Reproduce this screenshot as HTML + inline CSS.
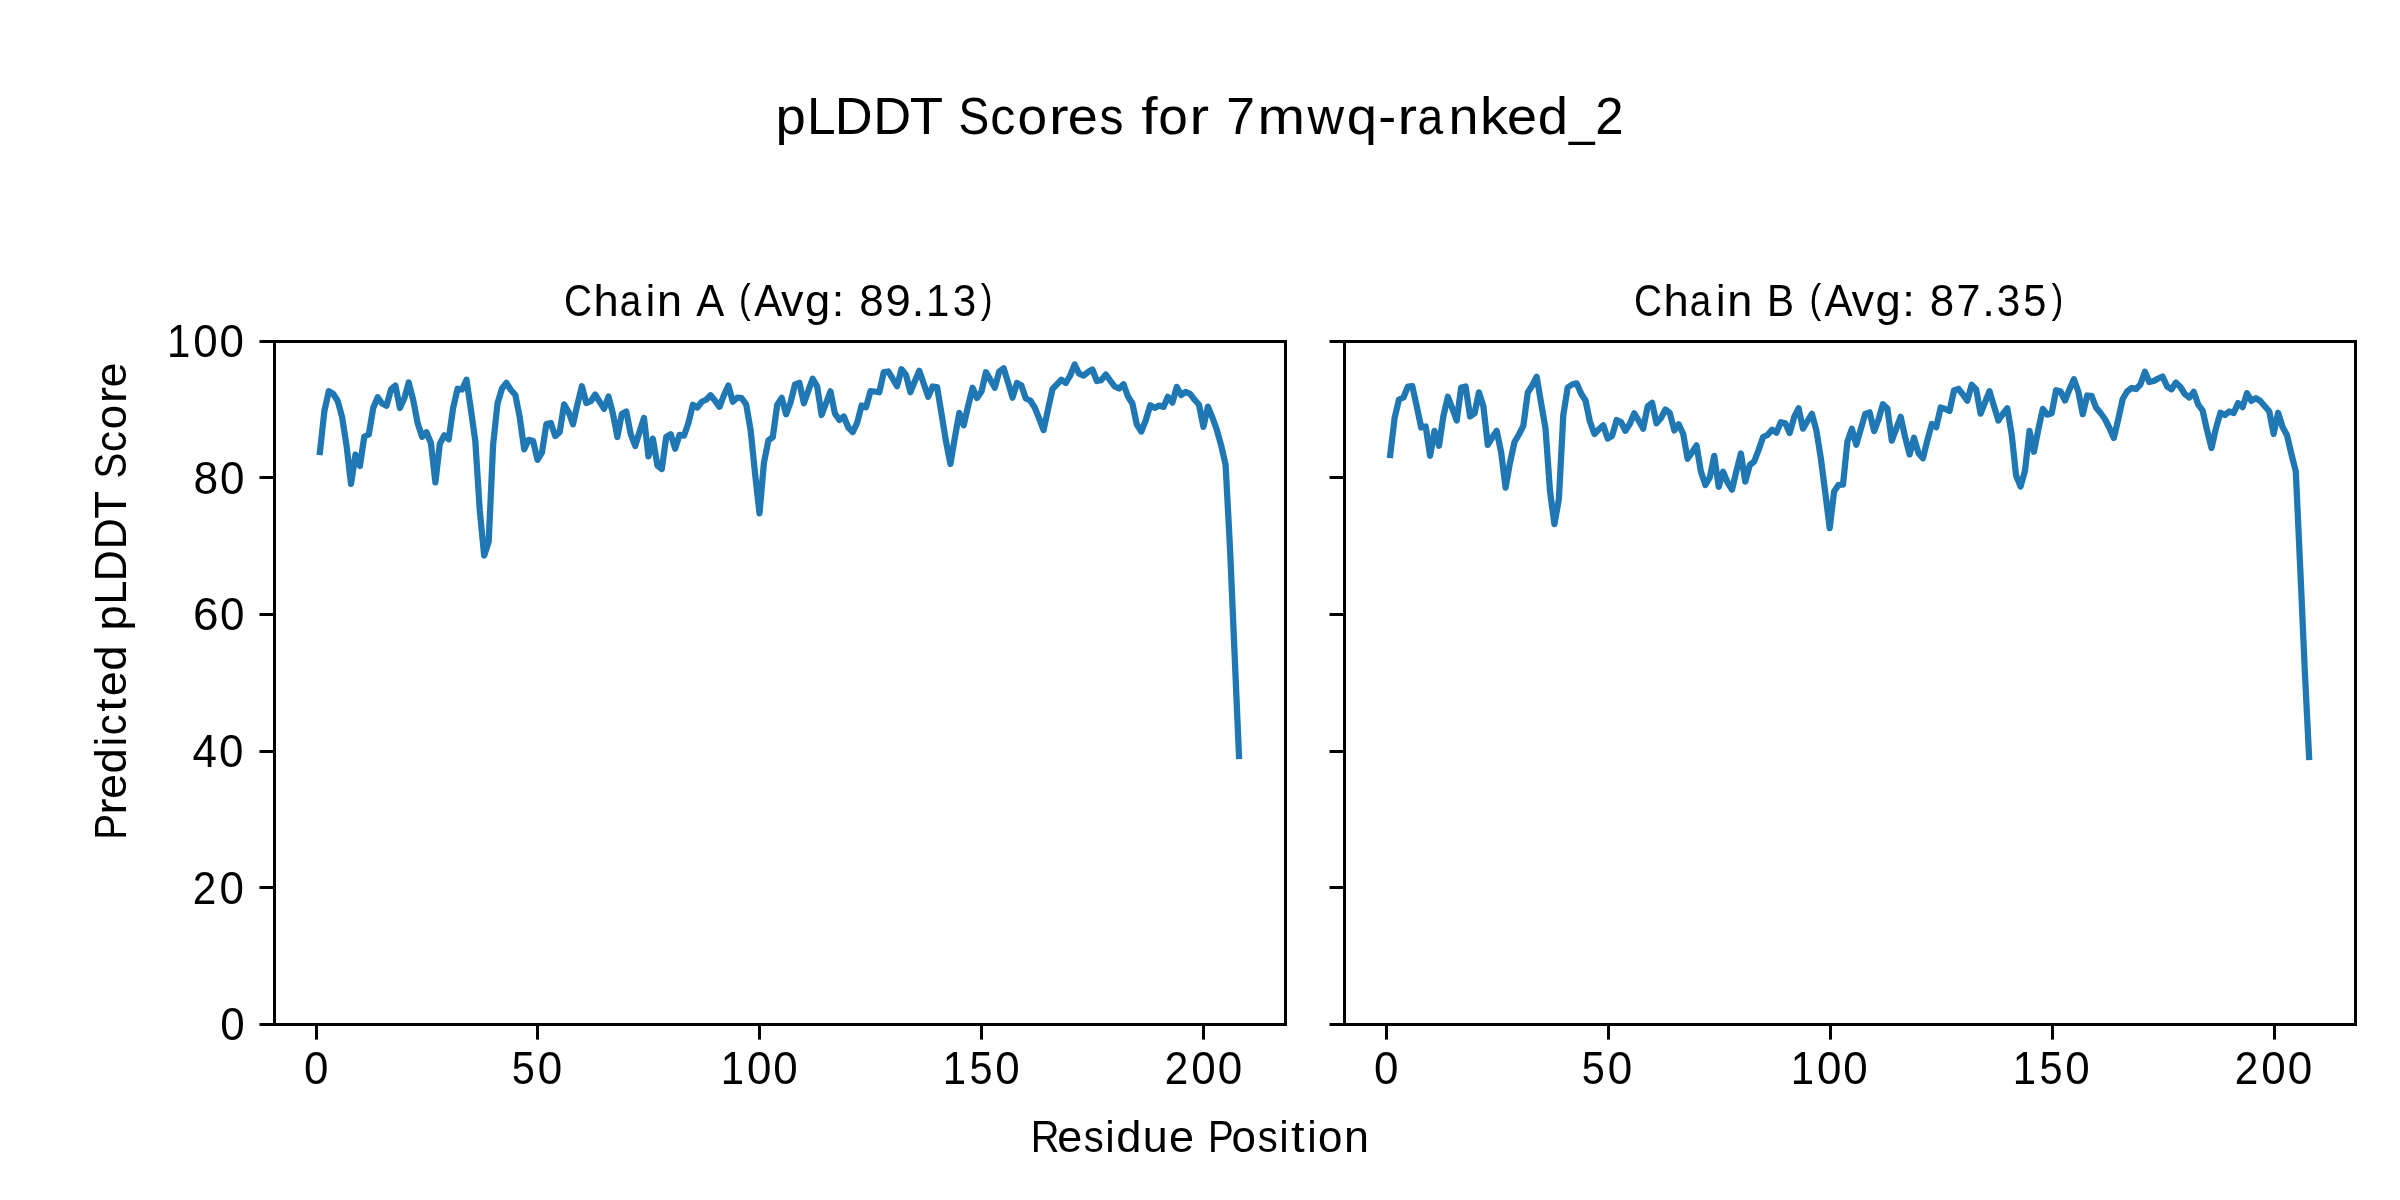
<!DOCTYPE html>
<html lang="en">
<head>
<meta charset="utf-8">
<title>pLDDT Scores for 7mwq-ranked_2</title>
<style>
html,body{margin:0;padding:0;background:#fff;}
body{width:2400px;height:1200px;overflow:hidden;}
svg{display:block;will-change:transform;}
svg text{font-family:"Liberation Sans",sans-serif;fill:#000;}
</style>
</head>
<body>
<svg width="2400" height="1200" viewBox="0 0 2400 1200">
<rect x="0" y="0" width="2400" height="1200" fill="#ffffff"/>
<!-- chain A pLDDT line -->
<polyline id="line-a" points="319.9,452.0 324.4,411.0 328.8,391.2 333.3,394.0 337.7,401.0 342.1,417.0 346.6,446.0 351.0,484.0 355.5,454.5 359.9,466.0 364.3,436.5 368.8,434.5 373.2,408.0 377.7,397.2 382.1,403.5 386.5,405.8 391.0,389.4 395.4,385.5 399.9,408.0 404.3,398.5 408.7,382.5 413.2,400.0 417.6,423.0 422.1,436.7 426.5,432.2 430.9,443.0 435.4,482.3 439.8,444.0 444.3,435.3 448.7,439.3 453.1,408.0 457.6,388.7 462.0,389.5 466.5,379.7 470.9,409.5 475.3,441.0 479.8,511.0 484.2,555.5 488.7,541.5 493.1,445.0 497.5,403.5 502.0,388.5 506.4,382.8 510.9,390.0 515.3,394.8 519.7,417.0 524.2,449.3 528.6,439.8 533.1,441.0 537.5,459.9 541.9,452.7 546.4,424.0 550.8,423.0 555.2,436.0 559.7,432.2 564.1,404.3 568.6,412.0 573.0,424.3 577.4,404.5 581.9,386.3 586.3,403.0 590.8,401.2 595.2,394.5 599.6,401.7 604.1,408.8 608.5,396.5 613.0,414.0 617.4,437.0 621.8,414.0 626.3,411.5 630.7,434.0 635.2,446.0 639.6,431.5 644.0,418.0 648.5,456.3 652.9,438.8 657.4,465.5 661.8,469.0 666.2,437.0 670.7,434.2 675.1,448.7 679.6,434.8 684.0,435.7 688.4,423.0 692.9,404.8 697.3,407.5 701.8,401.8 706.2,399.7 710.6,395.2 715.1,400.8 719.5,406.8 724.0,395.0 728.4,385.5 732.8,401.8 737.3,397.7 741.7,398.2 746.2,404.5 750.6,430.0 755.0,473.0 759.5,513.3 763.9,463.0 768.4,440.5 772.8,437.0 777.2,405.0 781.7,397.8 786.1,414.3 790.5,402.5 795.0,384.5 799.4,382.8 803.9,403.3 808.3,390.7 812.7,378.7 817.2,386.5 821.6,415.0 826.1,403.0 830.5,391.3 834.9,413.5 839.4,420.0 843.8,416.5 848.3,427.5 852.7,432.1 857.1,423.0 861.6,405.5 866.0,407.3 870.5,391.2 874.9,391.5 879.3,392.3 883.8,372.0 888.2,371.5 892.7,378.7 897.1,386.3 901.5,369.2 906.0,375.0 910.4,392.2 914.9,381.0 919.3,370.8 923.7,383.5 928.2,396.7 932.6,386.5 937.1,387.0 941.5,413.8 945.9,440.9 950.4,464.0 954.8,438.0 959.3,412.8 963.7,425.3 968.1,406.0 972.6,387.8 977.0,397.9 981.5,391.5 985.9,372.2 990.3,379.7 994.8,387.8 999.2,371.5 1003.7,368.3 1008.1,382.7 1012.5,397.7 1017.0,383.0 1021.4,385.5 1025.8,398.5 1030.3,400.5 1034.7,407.5 1039.2,418.6 1043.6,430.2 1048.0,409.3 1052.5,389.0 1056.9,384.3 1061.4,379.7 1065.8,383.0 1070.2,375.5 1074.7,364.5 1079.1,373.6 1083.6,375.6 1088.0,372.0 1092.4,369.5 1096.9,381.0 1101.3,380.1 1105.8,374.5 1110.2,380.5 1114.6,386.5 1119.1,388.5 1123.5,384.2 1128.0,396.5 1132.4,403.5 1136.8,424.5 1141.3,431.5 1145.7,420.5 1150.2,405.3 1154.6,407.9 1159.0,405.6 1163.5,406.9 1167.9,396.8 1172.4,402.6 1176.8,386.9 1181.2,394.9 1185.7,392.0 1190.1,393.8 1194.6,399.8 1199.0,404.8 1203.4,426.9 1207.9,406.6 1212.3,417.3 1216.8,429.8 1221.2,445.5 1225.6,464.8 1230.1,550.0 1234.5,652.0 1239.0,756.0" fill="none" stroke="#1f77b4" stroke-width="6.25" stroke-linejoin="round" stroke-linecap="square"/>
<!-- chain B pLDDT line -->
<polyline id="line-b" points="1390.2,455.0 1394.6,418.0 1399.0,399.5 1403.5,397.5 1407.9,386.5 1412.3,386.2 1416.8,406.6 1421.2,427.5 1425.7,426.5 1430.1,455.8 1434.5,430.8 1439.0,445.8 1443.4,416.0 1447.9,396.8 1452.3,408.4 1456.7,420.5 1461.2,387.5 1465.6,386.5 1470.1,416.5 1474.5,413.5 1478.9,392.3 1483.4,406.5 1487.8,444.8 1492.3,437.5 1496.7,430.8 1501.1,452.0 1505.6,487.7 1510.0,462.5 1514.5,442.0 1518.9,434.5 1523.3,426.0 1527.8,392.5 1532.2,385.5 1536.7,376.8 1541.1,403.0 1545.5,428.5 1550.0,491.0 1554.4,524.2 1558.9,499.0 1563.3,415.0 1567.7,387.5 1572.2,384.5 1576.6,383.3 1581.1,393.5 1585.5,400.5 1589.9,421.5 1594.4,434.0 1598.8,429.4 1603.3,425.3 1607.7,438.5 1612.1,436.0 1616.6,420.0 1621.0,422.0 1625.4,430.8 1629.9,423.8 1634.3,413.3 1638.8,420.8 1643.2,428.7 1647.6,406.5 1652.1,402.8 1656.5,423.3 1661.0,418.0 1665.4,409.5 1669.8,413.0 1674.3,430.5 1678.7,424.3 1683.2,434.0 1687.6,458.8 1692.0,452.5 1696.5,445.3 1700.9,471.5 1705.4,485.0 1709.8,477.5 1714.2,455.8 1718.7,486.8 1723.1,471.8 1727.6,482.5 1732.0,489.7 1736.4,471.0 1740.9,453.5 1745.3,481.7 1749.8,465.0 1754.2,461.5 1758.6,450.0 1763.1,437.0 1767.5,435.0 1772.0,429.7 1776.4,432.7 1780.8,422.2 1785.3,423.2 1789.7,433.0 1794.2,417.0 1798.6,408.3 1803.0,428.7 1807.5,421.0 1811.9,413.8 1816.4,430.5 1820.8,458.0 1825.2,492.0 1829.7,528.2 1834.1,491.5 1838.6,484.8 1843.0,484.7 1847.4,441.5 1851.9,428.8 1856.3,444.7 1860.7,429.5 1865.2,414.0 1869.6,412.3 1874.1,431.1 1878.5,419.5 1882.9,404.2 1887.4,408.5 1891.8,440.6 1896.3,428.4 1900.7,416.8 1905.1,437.0 1909.6,454.5 1914.0,437.8 1918.5,453.2 1922.9,458.3 1927.3,440.5 1931.8,424.0 1936.2,427.3 1940.7,407.5 1945.1,409.0 1949.5,411.0 1954.0,390.5 1958.4,388.8 1962.9,394.5 1967.3,400.7 1971.7,384.8 1976.2,389.5 1980.6,413.7 1985.1,402.2 1989.5,391.2 1993.9,405.8 1998.4,420.5 2002.8,414.0 2007.3,408.3 2011.7,434.5 2016.1,475.7 2020.6,486.5 2025.0,470.6 2029.5,430.8 2033.9,451.8 2038.3,429.7 2042.8,408.8 2047.2,414.7 2051.7,413.2 2056.1,390.2 2060.5,391.5 2065.0,400.5 2069.4,389.5 2073.9,379.2 2078.3,391.5 2082.7,414.2 2087.2,395.5 2091.6,395.8 2096.0,407.5 2100.5,413.0 2104.9,419.0 2109.4,428.0 2113.8,438.0 2118.2,419.5 2122.7,399.0 2127.1,391.5 2131.6,387.9 2136.0,389.1 2140.4,384.5 2144.9,371.8 2149.3,382.0 2153.8,381.0 2158.2,378.5 2162.6,376.5 2167.1,386.5 2171.5,389.3 2176.0,382.6 2180.4,387.0 2184.8,394.0 2189.3,397.5 2193.7,391.8 2198.2,404.5 2202.6,410.5 2207.0,430.0 2211.5,448.0 2215.9,428.5 2220.4,412.8 2224.8,415.0 2229.2,411.5 2233.7,413.0 2238.1,403.0 2242.6,407.1 2247.0,393.3 2251.4,400.9 2255.9,398.2 2260.3,401.0 2264.8,406.2 2269.2,411.2 2273.6,434.0 2278.1,412.7 2282.5,426.7 2287.0,435.3 2291.4,454.0 2295.8,471.5 2300.3,569.5 2304.7,668.6 2309.1,757.0" fill="none" stroke="#1f77b4" stroke-width="6.25" stroke-linejoin="round" stroke-linecap="square"/>
<!-- axes spines -->
<g id="spines" shape-rendering="crispEdges">
<rect x="273" y="340" width="1014" height="3" fill="#000"/>
<rect x="273" y="1023" width="1014" height="3" fill="#000"/>
<rect x="273" y="340" width="3" height="686" fill="#000"/>
<rect x="1284" y="340" width="3" height="686" fill="#000"/>
<rect x="1343" y="340" width="1014" height="3" fill="#000"/>
<rect x="1343" y="1023" width="1014" height="3" fill="#000"/>
<rect x="1343" y="340" width="3" height="686" fill="#000"/>
<rect x="2354" y="340" width="3" height="686" fill="#000"/>
</g>
<!-- tick marks -->
<g id="ticks">
<rect x="315" y="1024.5" width="3" height="15.1" fill="#000"/>
<rect x="536" y="1024.5" width="3" height="15.1" fill="#000"/>
<rect x="758" y="1024.5" width="3" height="15.1" fill="#000"/>
<rect x="980" y="1024.5" width="3" height="15.1" fill="#000"/>
<rect x="1202" y="1024.5" width="3" height="15.1" fill="#000"/>
<rect x="1385" y="1024.5" width="3" height="15.1" fill="#000"/>
<rect x="1607" y="1024.5" width="3" height="15.1" fill="#000"/>
<rect x="1829" y="1024.5" width="3" height="15.1" fill="#000"/>
<rect x="2051" y="1024.5" width="3" height="15.1" fill="#000"/>
<rect x="2273" y="1024.5" width="3" height="15.1" fill="#000"/>
<rect x="259.5" y="340" width="14.5" height="3" fill="#000"/>
<rect x="1329.5" y="340" width="14.5" height="3" fill="#000"/>
<rect x="259.5" y="476" width="14.5" height="3" fill="#000"/>
<rect x="1329.5" y="476" width="14.5" height="3" fill="#000"/>
<rect x="259.5" y="613" width="14.5" height="3" fill="#000"/>
<rect x="1329.5" y="613" width="14.5" height="3" fill="#000"/>
<rect x="259.5" y="750" width="14.5" height="3" fill="#000"/>
<rect x="1329.5" y="750" width="14.5" height="3" fill="#000"/>
<rect x="259.5" y="886" width="14.5" height="3" fill="#000"/>
<rect x="1329.5" y="886" width="14.5" height="3" fill="#000"/>
<rect x="259.5" y="1023" width="14.5" height="3" fill="#000"/>
<rect x="1329.5" y="1023" width="14.5" height="3" fill="#000"/>
</g>
<!-- text: title, subplot titles, axis labels, tick labels -->
<g id="labels">
<text transform="translate(779.00 134.00)" font-size="52.44"><tspan x="-3.51" y="0" textLength="30.30" lengthAdjust="spacingAndGlyphs">p</tspan><tspan x="27.93" y="0" textLength="28.65" lengthAdjust="spacingAndGlyphs">L</tspan><tspan x="55.80" y="0">D</tspan><tspan x="94.37" y="0">D</tspan><tspan x="130.89" y="0" textLength="33.36" lengthAdjust="spacingAndGlyphs">T</tspan><tspan x="162.85" y="0"> </tspan><tspan x="179.54" y="0" textLength="30.78" lengthAdjust="spacingAndGlyphs">S</tspan><tspan x="211.19" y="0" textLength="25.12" lengthAdjust="spacingAndGlyphs">c</tspan><tspan x="238.62" y="0" textLength="29.61" lengthAdjust="spacingAndGlyphs">o</tspan><tspan x="270.06" y="0" textLength="19.56" lengthAdjust="spacingAndGlyphs">r</tspan><tspan x="288.66" y="0" textLength="30.08" lengthAdjust="spacingAndGlyphs">e</tspan><tspan x="320.38" y="0" textLength="24.00" lengthAdjust="spacingAndGlyphs">s</tspan><tspan x="345.09" y="0"> </tspan><tspan x="362.26" y="0" textLength="16.32" lengthAdjust="spacingAndGlyphs">f</tspan><tspan x="379.17" y="0" textLength="29.61" lengthAdjust="spacingAndGlyphs">o</tspan><tspan x="410.61" y="0" textLength="19.56" lengthAdjust="spacingAndGlyphs">r</tspan><tspan x="429.87" y="0"> </tspan><tspan x="447.25" y="0" textLength="28.72" lengthAdjust="spacingAndGlyphs">7</tspan><tspan x="478.41" y="0" textLength="47.53" lengthAdjust="spacingAndGlyphs">m</tspan><tspan x="528.61" y="0" textLength="36.55" lengthAdjust="spacingAndGlyphs">w</tspan><tspan x="567.87" y="0" textLength="30.24" lengthAdjust="spacingAndGlyphs">q</tspan><tspan x="599.23" y="0" textLength="17.98" lengthAdjust="spacingAndGlyphs">-</tspan><tspan x="618.58" y="0" textLength="19.56" lengthAdjust="spacingAndGlyphs">r</tspan><tspan x="638.60" y="0" textLength="25.67" lengthAdjust="spacingAndGlyphs">a</tspan><tspan x="669.49" y="0" textLength="30.03" lengthAdjust="spacingAndGlyphs">n</tspan><tspan x="701.04" y="0" textLength="28.00" lengthAdjust="spacingAndGlyphs">k</tspan><tspan x="727.98" y="0" textLength="30.08" lengthAdjust="spacingAndGlyphs">e</tspan><tspan x="758.80" y="0" textLength="30.27" lengthAdjust="spacingAndGlyphs">d</tspan><tspan x="789.89" y="1.29" textLength="25.67" lengthAdjust="spacingAndGlyphs">_</tspan><tspan x="816.26" y="0" textLength="28.30" lengthAdjust="spacingAndGlyphs">2</tspan></text>
<text transform="translate(566.00 316.00)" font-size="43.93"><tspan x="-1.97" y="0" textLength="27.97" lengthAdjust="spacingAndGlyphs">C</tspan><tspan x="27.41" y="0" textLength="25.19" lengthAdjust="spacingAndGlyphs">h</tspan><tspan x="53.74" y="0" textLength="21.50" lengthAdjust="spacingAndGlyphs">a</tspan><tspan x="79.79" y="0" textLength="9.47" lengthAdjust="spacingAndGlyphs">i</tspan><tspan x="91.09" y="0" textLength="25.02" lengthAdjust="spacingAndGlyphs">n</tspan><tspan x="116.71" y="0"> </tspan><tspan x="130.20" y="0" textLength="28.03" lengthAdjust="spacingAndGlyphs">A</tspan><tspan x="158.47" y="0"> </tspan><tspan x="173.11" y="-2.75" font-size="39.83" textLength="11.74" lengthAdjust="spacingAndGlyphs">(</tspan><tspan x="188.22" y="0" textLength="28.03" lengthAdjust="spacingAndGlyphs">A</tspan><tspan x="215.07" y="0" textLength="22.51" lengthAdjust="spacingAndGlyphs">v</tspan><tspan x="239.05" y="0" textLength="25.22" lengthAdjust="spacingAndGlyphs">g</tspan><tspan x="265.87" y="0" textLength="12.54" lengthAdjust="spacingAndGlyphs">:</tspan><tspan x="279.15" y="0"> </tspan><tspan x="293.29" y="0">8</tspan><tspan x="319.41" y="0" textLength="25.26" lengthAdjust="spacingAndGlyphs">9</tspan><tspan x="345.77" y="0" textLength="12.54" lengthAdjust="spacingAndGlyphs">.</tspan><tspan x="360.06" y="0" textLength="23.36" lengthAdjust="spacingAndGlyphs">1</tspan><tspan x="386.76" y="0" textLength="23.49" lengthAdjust="spacingAndGlyphs">3</tspan><tspan x="414.84" y="-2.75" font-size="39.83" textLength="11.74" lengthAdjust="spacingAndGlyphs">)</tspan></text>
<text transform="translate(1636.00 316.00)" font-size="43.92"><tspan x="-1.97" y="0" textLength="28.00" lengthAdjust="spacingAndGlyphs">C</tspan><tspan x="27.44" y="0" textLength="25.22" lengthAdjust="spacingAndGlyphs">h</tspan><tspan x="53.83" y="0" textLength="21.49" lengthAdjust="spacingAndGlyphs">a</tspan><tspan x="79.89" y="0" textLength="9.49" lengthAdjust="spacingAndGlyphs">i</tspan><tspan x="91.21" y="0" textLength="25.05" lengthAdjust="spacingAndGlyphs">n</tspan><tspan x="116.85" y="0"> </tspan><tspan x="130.89" y="0" textLength="27.07" lengthAdjust="spacingAndGlyphs">B</tspan><tspan x="158.74" y="0"> </tspan><tspan x="173.41" y="-2.75" font-size="39.83" textLength="11.76" lengthAdjust="spacingAndGlyphs">(</tspan><tspan x="188.53" y="0" textLength="28.07" lengthAdjust="spacingAndGlyphs">A</tspan><tspan x="215.42" y="0" textLength="22.54" lengthAdjust="spacingAndGlyphs">v</tspan><tspan x="239.42" y="0" textLength="25.25" lengthAdjust="spacingAndGlyphs">g</tspan><tspan x="266.28" y="0" textLength="12.56" lengthAdjust="spacingAndGlyphs">:</tspan><tspan x="279.57" y="0"> </tspan><tspan x="293.73" y="0">8</tspan><tspan x="320.60" y="0" textLength="23.95" lengthAdjust="spacingAndGlyphs">7</tspan><tspan x="346.27" y="0" textLength="12.56" lengthAdjust="spacingAndGlyphs">.</tspan><tspan x="360.77" y="0" textLength="23.52" lengthAdjust="spacingAndGlyphs">3</tspan><tspan x="387.30" y="0" textLength="23.11" lengthAdjust="spacingAndGlyphs">5</tspan><tspan x="415.43" y="-2.75" font-size="39.83" textLength="11.76" lengthAdjust="spacingAndGlyphs">)</tspan></text>
<text transform="translate(1034.00 1152.00)" font-size="43.87"><tspan x="-3.27" y="0" textLength="28.78" lengthAdjust="spacingAndGlyphs">R</tspan><tspan x="23.34" y="0" textLength="25.03" lengthAdjust="spacingAndGlyphs">e</tspan><tspan x="49.71" y="0" textLength="19.97" lengthAdjust="spacingAndGlyphs">s</tspan><tspan x="71.33" y="0" textLength="9.46" lengthAdjust="spacingAndGlyphs">i</tspan><tspan x="82.22" y="0" textLength="25.19" lengthAdjust="spacingAndGlyphs">d</tspan><tspan x="108.86" y="0" textLength="24.98" lengthAdjust="spacingAndGlyphs">u</tspan><tspan x="135.01" y="0" textLength="25.03" lengthAdjust="spacingAndGlyphs">e</tspan><tspan x="160.23" y="0"> </tspan><tspan x="173.92" y="0" textLength="25.75" lengthAdjust="spacingAndGlyphs">P</tspan><tspan x="197.50" y="0">o</tspan><tspan x="223.68" y="0" textLength="19.97" lengthAdjust="spacingAndGlyphs">s</tspan><tspan x="245.29" y="0" textLength="9.46" lengthAdjust="spacingAndGlyphs">i</tspan><tspan x="256.99" y="0" textLength="13.65" lengthAdjust="spacingAndGlyphs">t</tspan><tspan x="273.18" y="0" textLength="9.46" lengthAdjust="spacingAndGlyphs">i</tspan><tspan x="284.10" y="0">o</tspan><tspan x="309.93" y="0" textLength="24.98" lengthAdjust="spacingAndGlyphs">n</tspan></text>
<text transform="translate(126.00 836.00) rotate(-90)" font-size="43.85"><tspan x="-3.63" y="0" textLength="25.74" lengthAdjust="spacingAndGlyphs">P</tspan><tspan x="21.33" y="0" textLength="16.36" lengthAdjust="spacingAndGlyphs">r</tspan><tspan x="36.90" y="0" textLength="25.04" lengthAdjust="spacingAndGlyphs">e</tspan><tspan x="62.52" y="0" textLength="25.19" lengthAdjust="spacingAndGlyphs">d</tspan><tspan x="89.63" y="0" textLength="9.47" lengthAdjust="spacingAndGlyphs">i</tspan><tspan x="100.65" y="0" textLength="20.91" lengthAdjust="spacingAndGlyphs">c</tspan><tspan x="124.23" y="0" textLength="13.65" lengthAdjust="spacingAndGlyphs">t</tspan><tspan x="139.73" y="0" textLength="25.04" lengthAdjust="spacingAndGlyphs">e</tspan><tspan x="165.35" y="0" textLength="25.19" lengthAdjust="spacingAndGlyphs">d</tspan><tspan x="191.39" y="0"> </tspan><tspan x="205.48" y="0" textLength="25.22" lengthAdjust="spacingAndGlyphs">p</tspan><tspan x="231.62" y="0" textLength="23.85" lengthAdjust="spacingAndGlyphs">L</tspan><tspan x="254.80" y="0" textLength="31.14" lengthAdjust="spacingAndGlyphs">D</tspan><tspan x="286.86" y="0" textLength="31.14" lengthAdjust="spacingAndGlyphs">D</tspan><tspan x="317.23" y="0" textLength="27.77" lengthAdjust="spacingAndGlyphs">T</tspan><tspan x="343.80" y="0"> </tspan><tspan x="357.62" y="0" textLength="25.74" lengthAdjust="spacingAndGlyphs">S</tspan><tspan x="383.99" y="0" textLength="20.91" lengthAdjust="spacingAndGlyphs">c</tspan><tspan x="406.80" y="0">o</tspan><tspan x="432.89" y="0" textLength="16.36" lengthAdjust="spacingAndGlyphs">r</tspan><tspan x="448.46" y="0" textLength="25.04" lengthAdjust="spacingAndGlyphs">e</tspan></text>
<text transform="translate(170.21 356.79)" font-size="45.72"><tspan x="-3.20" y="0" textLength="23.33" lengthAdjust="spacingAndGlyphs">1</tspan><tspan x="22.94" y="0" textLength="24.43" lengthAdjust="spacingAndGlyphs">0</tspan><tspan x="49.42" y="0" textLength="24.43" lengthAdjust="spacingAndGlyphs">0</tspan></text>
<text transform="translate(195.43 493.78)" font-size="45.85"><tspan x="-1.93" y="0" textLength="24.69" lengthAdjust="spacingAndGlyphs">8</tspan><tspan x="24.69" y="0" textLength="24.43" lengthAdjust="spacingAndGlyphs">0</tspan></text>
<text transform="translate(195.40 629.79)" font-size="45.85"><tspan x="-2.31" y="0">6</tspan><tspan x="24.60" y="0" textLength="24.43" lengthAdjust="spacingAndGlyphs">0</tspan></text>
<text transform="translate(193.52 766.79)" font-size="45.66"><tspan x="-1.01" y="0" textLength="24.43" lengthAdjust="spacingAndGlyphs">4</tspan><tspan x="25.48" y="0" textLength="24.43" lengthAdjust="spacingAndGlyphs">0</tspan></text>
<text transform="translate(194.97 903.79)" font-size="45.73"><tspan x="-2.13" y="0" textLength="23.55" lengthAdjust="spacingAndGlyphs">2</tspan><tspan x="24.46" y="0" textLength="24.43" lengthAdjust="spacingAndGlyphs">0</tspan></text>
<text transform="translate(221.88 1039.79)" font-size="45.85"><tspan x="-1.72" y="0" textLength="24.43" lengthAdjust="spacingAndGlyphs">0</tspan></text>
<text transform="translate(305.63 1083.79)" font-size="45.85"><tspan x="-1.72" y="0" textLength="24.43" lengthAdjust="spacingAndGlyphs">0</tspan></text>
<text transform="translate(513.36 1083.79)" font-size="45.78"><tspan x="-1.66" y="0" textLength="23.05" lengthAdjust="spacingAndGlyphs">5</tspan><tspan x="24.30" y="0" textLength="24.43" lengthAdjust="spacingAndGlyphs">0</tspan></text>
<text transform="translate(723.96 1083.79)" font-size="45.72"><tspan x="-3.20" y="0" textLength="23.33" lengthAdjust="spacingAndGlyphs">1</tspan><tspan x="22.94" y="0" textLength="24.43" lengthAdjust="spacingAndGlyphs">0</tspan><tspan x="49.42" y="0" textLength="24.43" lengthAdjust="spacingAndGlyphs">0</tspan></text>
<text transform="translate(945.96 1083.79)" font-size="45.68"><tspan x="-3.20" y="0" textLength="23.33" lengthAdjust="spacingAndGlyphs">1</tspan><tspan x="23.46" y="0" textLength="23.05" lengthAdjust="spacingAndGlyphs">5</tspan><tspan x="49.42" y="0" textLength="24.43" lengthAdjust="spacingAndGlyphs">0</tspan></text>
<text transform="translate(1166.92 1083.79)" font-size="45.77"><tspan x="-2.13" y="0" textLength="23.55" lengthAdjust="spacingAndGlyphs">2</tspan><tspan x="24.46" y="0" textLength="24.43" lengthAdjust="spacingAndGlyphs">0</tspan><tspan x="50.95" y="0" textLength="24.43" lengthAdjust="spacingAndGlyphs">0</tspan></text>
<text transform="translate(1375.63 1083.79)" font-size="45.85"><tspan x="-1.72" y="0" textLength="24.43" lengthAdjust="spacingAndGlyphs">0</tspan></text>
<text transform="translate(1583.36 1083.79)" font-size="45.78"><tspan x="-1.66" y="0" textLength="23.05" lengthAdjust="spacingAndGlyphs">5</tspan><tspan x="24.30" y="0" textLength="24.43" lengthAdjust="spacingAndGlyphs">0</tspan></text>
<text transform="translate(1793.96 1083.79)" font-size="45.72"><tspan x="-3.20" y="0" textLength="23.33" lengthAdjust="spacingAndGlyphs">1</tspan><tspan x="22.94" y="0" textLength="24.43" lengthAdjust="spacingAndGlyphs">0</tspan><tspan x="49.42" y="0" textLength="24.43" lengthAdjust="spacingAndGlyphs">0</tspan></text>
<text transform="translate(2015.96 1083.79)" font-size="45.68"><tspan x="-3.20" y="0" textLength="23.33" lengthAdjust="spacingAndGlyphs">1</tspan><tspan x="23.46" y="0" textLength="23.05" lengthAdjust="spacingAndGlyphs">5</tspan><tspan x="49.42" y="0" textLength="24.43" lengthAdjust="spacingAndGlyphs">0</tspan></text>
<text transform="translate(2236.92 1083.79)" font-size="45.77"><tspan x="-2.13" y="0" textLength="23.55" lengthAdjust="spacingAndGlyphs">2</tspan><tspan x="24.46" y="0" textLength="24.43" lengthAdjust="spacingAndGlyphs">0</tspan><tspan x="50.95" y="0" textLength="24.43" lengthAdjust="spacingAndGlyphs">0</tspan></text>
</g>
</svg>
</body>
</html>
